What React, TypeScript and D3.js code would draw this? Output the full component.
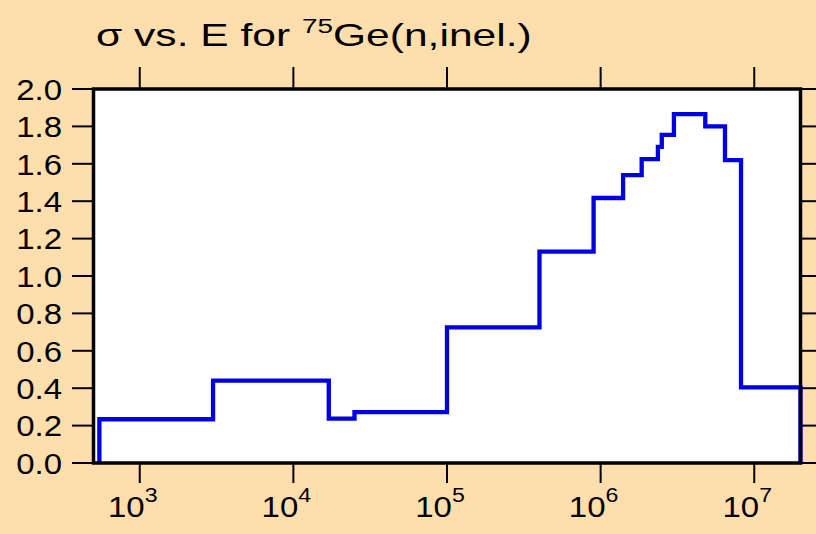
import * as d3 from 'd3';

// bin edges (eV) and cross section (b) per bin
const edges = [546, 3.0e3, 1.7e4, 2.5e4, 1.0e5, 4.0e5, 9.0e5, 1.4e6, 1.85e6, 2.36e6, 2.5e6, 3.0e6, 4.8e6, 6.45e6, 8.2e6, 2.0e7];
const sigma = [0.234, 0.44, 0.237, 0.272, 0.725, 1.13, 1.417, 1.539, 1.625, 1.69, 1.755, 1.866, 1.8, 1.62, 0.404];
const xTicks = [1e3, 1e4, 1e5, 1e6, 1e7];
const yTicks = [0, 0.2, 0.4, 0.6, 0.8, 1.0, 1.2, 1.4, 1.6, 1.8, 2.0];

const W = 816;
const H = 534;
const m = { left: 93.5, right: 800.5, top: 89, bottom: 463 };
const font = 'Liberation Sans, Arial, sans-serif';

const App = () => {
  const x = d3.scaleLog().domain([500, 2e7]).range([m.left, m.right]);
  const y = d3.scaleLinear().domain([0, 2]).range([m.bottom, m.top]);

  const pts: [number, number][] = [[edges[0], 0]];
  sigma.forEach((v, i) => {
    pts.push([edges[i], v]);
    pts.push([edges[i + 1], v]);
  });
  pts.push([edges[edges.length - 1], 0]);

  const line = d3
    .line<[number, number]>()
    .x((d) => x(d[0]))
    .y((d) => y(d[1]));

  return (
    <div style={{ position: 'fixed', left: 0, top: 0 }}>
      <svg width={W} height={H} style={{ display: 'block' }}>
        <rect width={W} height={H} fill="#ffdead" />
        <rect
          x={m.left}
          y={m.top}
          width={m.right - m.left}
          height={m.bottom - m.top}
          fill="#fff"
        />
        {/* title, glyphs are wide in the original so stretch it */}
        <text
          transform="translate(96,46) scale(1.33,1)"
          fontFamily={font}
          fontSize={32}
          fill="#000"
        >
          σ vs. E for{' '}
          <tspan fontSize={21} dy={-13}>
            75
          </tspan>
          <tspan dy={13}>Ge(n,inel.)</tspan>
        </text>

        {/* y ticks left and right */}
        {yTicks.map((t) => (
          <g key={t}>
            <line x1={72} x2={m.left} y1={y(t)} y2={y(t)} stroke="#000" strokeWidth={2} />
            <line x1={m.right} x2={W} y1={y(t)} y2={y(t)} stroke="#000" strokeWidth={2} />
            <text
              transform={`translate(62,${y(t)}) scale(1.1,1)`}
              dy="0.36em"
              textAnchor="end"
              fontFamily={font}
              fontSize={30}
              fill="#000"
            >
              {t.toFixed(1)}
            </text>
          </g>
        ))}

        {/* x ticks bottom and top */}
        {xTicks.map((t) => {
          const e = Math.round(Math.log10(t));
          return (
            <g key={t}>
              <line x1={x(t)} x2={x(t)} y1={m.bottom} y2={483} stroke="#000" strokeWidth={2} />
              <line x1={x(t)} x2={x(t)} y1={67} y2={m.top} stroke="#000" strokeWidth={2} />
              <text
                transform={`translate(${x(t) - 7},517) scale(1.1,1)`}
                textAnchor="middle"
                fontFamily={font}
                fontSize={30}
                fill="#000"
              >
                10
                <tspan fontSize={21} dy={-15}>
                  {e}
                </tspan>
              </text>
            </g>
          );
        })}

        <path
          d={line(pts) ?? ''}
          fill="none"
          stroke="#0000e0"
          strokeWidth={4.3}
          strokeLinejoin="miter"
        />
        <rect
          x={m.left}
          y={m.top}
          width={m.right - m.left}
          height={m.bottom - m.top}
          fill="none"
          stroke="#000"
          strokeWidth={3.5}
        />
      </svg>
    </div>
  );
};

export default App;
